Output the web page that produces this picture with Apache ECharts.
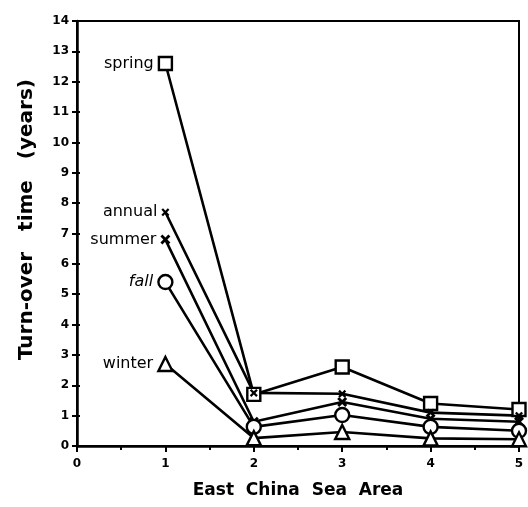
<!DOCTYPE html>
<html>
<head>
<meta charset="utf-8">
<script src="https://cdn.jsdelivr.net/npm/echarts@6/dist/echarts.min.js"></script>
<style>html,body{margin:0;padding:0;background:#fff}#c{width:528px;height:507px}</style>
</head>
<body>
<div id="c"></div>
<script>
var areas = [1, 2, 3, 4, 5];
var spring = [12.6, 1.7, 2.6, 1.4, 1.2];
var annual = [7.7, 1.75, 1.72, 1.1, 1.0];
var summer = [6.8, 0.8, 1.45, 0.9, 0.8];
var fall = [5.4, 0.63, 1.02, 0.63, 0.5];
var winter = [2.7, 0.26, 0.46, 0.25, 0.22];
var seriesNames = ['spring', 'annual', 'summer', 'fall', 'winter'];
var xTicks = [0, 1, 2, 3, 4, 5];
var yTicks = [0,1,2,3,4,5,6,7,8,9,10,11,12,13,14];

var X_PATH = 'path://M0,2L2,0L5,3L8,0L10,2L7,5L10,8L8,10L5,7L2,10L0,8L3,5Z';
var FONT = 'DejaVu Sans';

function pts(vals) { return areas.map(function (a, i) { return [a, vals[i]]; }); }

function mk(name, vals, symbol, size, filled, italic) {
  return {
    type: 'line', name: name, data: pts(vals),
    symbol: symbol, symbolSize: size, showAllSymbol: true,
    lineStyle: { color: '#000', width: 2.6 },
    itemStyle: filled ? { color: '#000', borderWidth: 0 } : { color: '#fff', borderColor: '#000', borderWidth: 2.4 },
    label: {
      show: true, position: 'left', distance: 4,
      formatter: function (p) { return p.dataIndex === 0 ? name : ''; },
      color: '#000', fontFamily: FONT, fontSize: 16, fontStyle: italic ? 'italic' : 'normal'
    },
    emphasis: { disabled: true },
    z: 3
  };
}

var chart = echarts.init(document.getElementById('c'), null, { renderer: 'canvas' });
chart.setOption({
  animation: false,
  backgroundColor: '#fff',
  grid: { left: 77, right: 9, top: 21, bottom: 61, show: true, borderColor: '#000', borderWidth: 2, backgroundColor: 'transparent' },
  xAxis: {
    type: 'value', min: xTicks[0], max: xTicks[xTicks.length - 1], interval: 1,
    name: 'East  China  Sea  Area', nameLocation: 'middle', nameGap: 36,
    nameTextStyle: { fontFamily: FONT, fontWeight: 'bold', fontSize: 17, color: '#000' },
    axisLine: { lineStyle: { color: '#000', width: 2.5 } },
    axisTick: { show: true, length: 6, lineStyle: { color: '#000', width: 2 } },
    minorTick: { show: true, splitNumber: 2, length: 4, lineStyle: { color: '#000', width: 2 } },
    axisLabel: { fontFamily: FONT, fontWeight: 'bold', fontSize: 12, color: '#000', margin: 12 },
    splitLine: { show: false }
  },
  yAxis: [{
    type: 'value', min: yTicks[0], max: yTicks[yTicks.length - 1], interval: 1,
    name: '    Turn-over   time   (years)', nameLocation: 'middle', nameGap: 40,
    nameTextStyle: { fontFamily: FONT, fontWeight: 'bold', fontSize: 20, color: '#000' },
    axisLine: { lineStyle: { color: '#000', width: 2.5 } },
    axisTick: { show: true, length: 5, lineStyle: { color: '#000', width: 2 } },
    axisLabel: { fontFamily: FONT, fontWeight: 'bold', fontSize: 12, color: '#000', margin: 8 },
    splitLine: { show: false }
  }, {
    type: 'value', position: 'left', min: yTicks[0], max: yTicks[yTicks.length - 1], interval: 1,
    axisLine: { show: false },
    axisTick: { show: true, inside: true, length: 3, lineStyle: { color: '#000', width: 2 } },
    axisLabel: { show: false },
    splitLine: { show: false }
  }],
  series: [
    mk(seriesNames[0], spring, 'rect', 13, false, false),
    mk(seriesNames[1], annual, X_PATH, 8, true, false),
    mk(seriesNames[2], summer, X_PATH, 10, true, false),
    mk(seriesNames[3], fall, 'circle', 14, false, true),
    mk(seriesNames[4], winter, 'triangle', 14, false, false)
  ]
});
</script>
</body>
</html>
